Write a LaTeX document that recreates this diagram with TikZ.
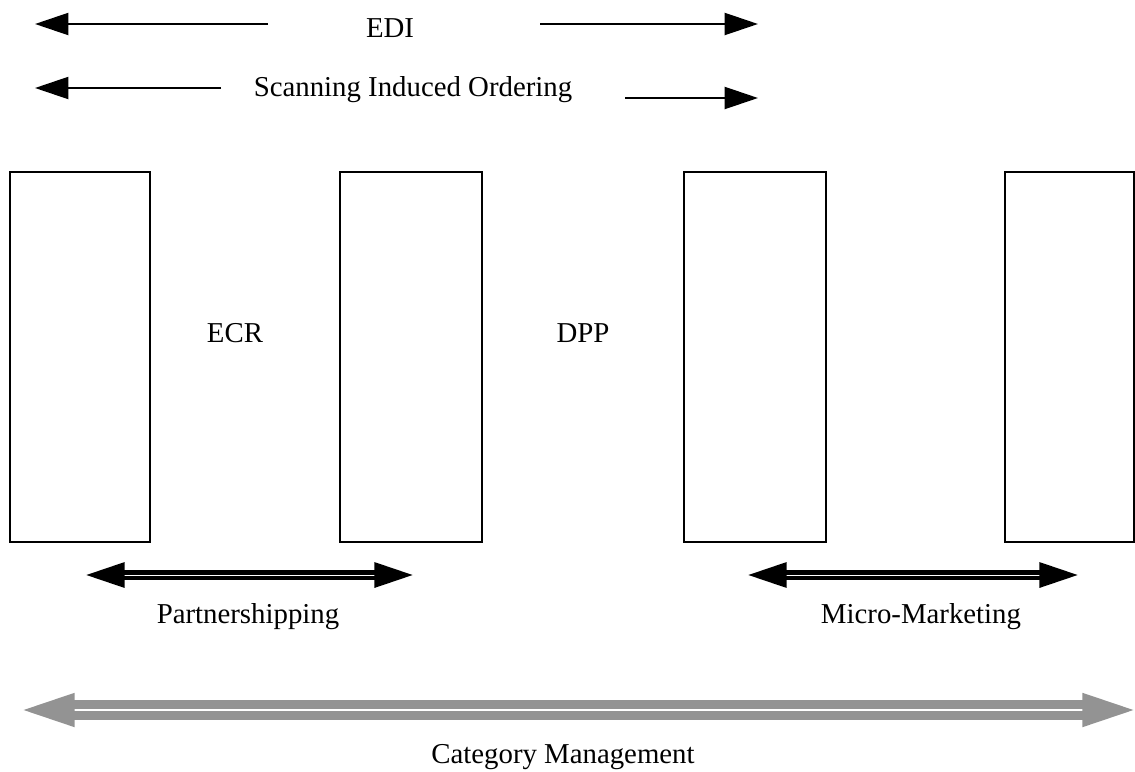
\documentclass[tikz,border=0pt]{standalone}
\usepackage{fontspec}
\setmainfont{Liberation Serif}
\usetikzlibrary{arrows.meta}

\begin{document}
\begin{tikzpicture}[x=0.02cm,y=-0.02cm,
  every node/.style={font=\fontsize{16.4}{19}\selectfont},
  caja/.style={draw,line width=1.1pt},
  flecha/.style={line width=1.3pt,-{Triangle[length=19pt,width=12.5pt]}},
  doble/.style={line width=2.6pt,double=white,double distance=0.35pt,
    {Triangle[length=22pt,width=14pt]}-{Triangle[length=22pt,width=14pt]}},
  gris/.style={draw=gray!85,line width=5.2pt,double=white,double distance=0.7pt,
    {Triangle[length=30pt,width=18pt]}-{Triangle[length=30pt,width=18pt]}}]

\useasboundingbox (0,0) rectangle (1135,771);

% Cajas
\draw[caja] (10,172) rectangle (150,542);
\draw[caja] (340,172) rectangle (482,542);
\draw[caja] (684,172) rectangle (826,542);
\draw[caja] (1005,172) rectangle (1134,542);

% Textos
\node (edi) at (390,28) {EDI};
\node (sio) at (413,90) {Scanning Induced Ordering};
\node (ecr) at (235,333) {ECR};
\node (dpp) at (583,333) {DPP};
\node (part) at (248,617) {Partnershipping};
\node (micro) at (921,617) {Micro-Marketing};
\node (cat) at (563,757) {Category Management};

% Extremos de las flechas
\coordinate (edia) at (268,24);
\coordinate (edib) at (35,24);
\coordinate (edic) at (540,24);
\coordinate (edid) at (758,24);
\coordinate (sioa) at (221,88);
\coordinate (siob) at (35,88);
\coordinate (sioc) at (625,98);
\coordinate (siod) at (758,98);
\coordinate (parta) at (86,575);
\coordinate (partb) at (413,575);
\coordinate (microa) at (748,575);
\coordinate (microb) at (1078,575);
\coordinate (cata) at (22,710);
\coordinate (catb) at (1135,710);

% Flechas
\draw[flecha] (edia) -- (edib);
\draw[flecha] (edic) -- (edid);
\draw[flecha] (sioa) -- (siob);
\draw[flecha] (sioc) -- (siod);
\draw[doble] (parta) -- (partb);
\draw[doble] (microa) -- (microb);
\draw[gris] (cata) -- (catb);

\end{tikzpicture}
\end{document}
